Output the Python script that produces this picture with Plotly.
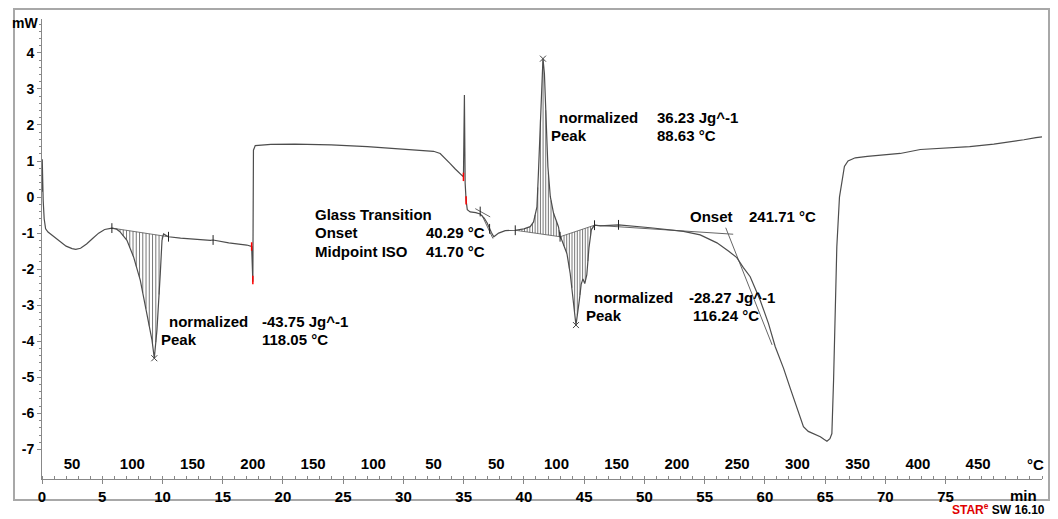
import numpy as np
import plotly.graph_objects as go

# ---------------- data ----------------
time_min = [
    0.00, 0.02, 0.05, 0.10, 0.18, 0.30, 0.50, 1.00, 1.50, 2.00, 2.50, 2.80, 3.20, 3.70, 4.20, 4.70,
    5.20, 5.80, 6.20, 6.50, 7.05, 7.60, 8.16, 8.71, 9.13, 9.32, 9.54, 9.82, 9.96, 10.09, 10.50,
    11.5, 12.5, 13.97, 14.2, 15.5, 17.0, 17.40, 17.50, 17.55, 17.70,
    19.0, 21.0, 24.0, 27.0, 30.0, 32.0, 32.5, 33.05, 33.5, 33.88, 34.3, 34.71, 34.98,
    35.06, 35.12, 35.20, 35.30, 35.54,
    36.0, 36.37, 36.7, 36.95, 37.15, 37.3, 37.5, 37.7, 37.9, 38.45, 39.28, 40.0, 40.52, 40.8,
    41.08, 41.2, 41.36, 41.49, 41.58, 41.7, 41.85, 41.99, 42.19, 42.46, 42.87, 43.0, 43.15,
    43.57, 43.84, 44.12, 44.32, 44.6, 44.75, 44.9, 45.05, 45.22, 45.4, 45.6, 45.86, 46.33,
    47.85, 50.5, 53.24, 54.63, 56.02, 57.0, 57.67, 58.2, 58.78, 59.61, 60.3, 60.86, 61.55,
    62.1, 62.66, 63.2, 63.6, 64.04, 64.6, 64.9, 65.15, 65.4, 65.56, 65.7, 65.83, 65.97, 66.19,
    66.39, 66.6, 66.9, 67.5, 68.5, 70.0, 71.23, 72.9, 75.0, 77.0, 79.0, 80.4, 81.5, 82.5, 83.0,
]
heat_flow_mw = [
    0.15, 1.05, 0.60, -0.10, -0.60, -0.88, -0.97, -1.10, -1.24, -1.36, -1.43, -1.45, -1.42, -1.30, -1.15, -1.00,
    -0.90, -0.86, -0.89, -0.97, -1.20, -1.66, -2.31, -3.22, -3.97, -4.47, -3.69, -2.11, -1.20, -1.02, -1.10,
    -1.14, -1.17, -1.20, -1.19, -1.27, -1.33, -1.37, -2.35, 1.30, 1.43,
    1.46, 1.47, 1.45, 1.40, 1.33, 1.29, 1.27, 1.21, 1.07, 0.93, 0.78, 0.65, 0.56,
    2.83, 0.40, -0.09, -0.35, -0.41,
    -0.43, -0.47, -0.58, -0.72, -0.88, -0.98, -1.10, -1.05, -1.00, -0.93, -0.92, -0.88, -0.82, -0.69,
    -0.27, 0.65, 2.04, 3.43, 3.84, 3.43, 2.04, 0.84, 0.01, -0.45, -0.83, -1.10, -1.20,
    -1.57, -2.12, -2.86, -3.55, -2.86, -2.42, -2.27, -2.40, -2.15, -1.40, -0.90, -0.78, -0.80,
    -0.77, -0.85, -0.95, -1.05, -1.27, -1.50, -1.68, -1.95, -2.21, -2.86, -3.51, -4.15, -4.75,
    -5.30, -5.82, -6.37, -6.50, -6.56, -6.65, -6.72, -6.77, -6.70, -6.56, -5.08, -3.23, -1.38, 0.00,
    0.47, 0.85, 1.00, 1.09, 1.13, 1.17, 1.21, 1.32, 1.37, 1.40, 1.47, 1.53, 1.59, 1.65, 1.67,
]

# time axis ticks (min) and temperature labels (°C) along the same axis
time_ticks = [0, 5, 10, 15, 20, 25, 30, 35, 40, 45, 50, 55, 60, 65, 70, 75]
temp_tick_times = [2.5, 7.5, 12.5, 17.5, 22.5, 27.5, 32.5, 37.7, 42.7, 47.7, 52.7, 57.7, 62.7, 67.7, 72.7, 77.7]
temp_tick_labels = ["50", "100", "150", "200", "150", "100", "50", "50", "100", "150", "200", "250",
                    "300", "350", "400", "450"]
y_ticks = [4, 3, 2, 1, 0, -1, -2, -3, -4, -5, -6, -7]

# integration baselines (start t, start mW, end t, end mW)
peak1_base = [5.80, -0.86, 10.50, -1.10]
peak2_base = [39.28, -0.92, 43.00, -1.10]
peak3_base = [43.00, -1.10, 45.86, -0.78]

peak_t = [9.32, 41.58, 44.32]
peak_mw = [-4.47, 3.84, -3.55]
limit_t = [5.80, 10.50, 14.2, 39.28, 43.00, 45.86, 47.85, 36.37, 37.15]
limit_mw = [-0.86, -1.10, -1.19, -0.92, -1.10, -0.78, -0.77, -0.40, -0.88]
red_t = [17.40, 17.50, 34.98, 35.20]
red_mw = [-1.37, -2.30, 0.56, -0.09]

tg_tan1_t = [35.96, 37.20]
tg_tan1_mw = [-0.32, -0.55]
tg_tan2_t = [36.51, 37.43]
tg_tan2_mw = [-0.50, -1.15]
onset_base_t = [45.86, 57.37]
onset_base_mw = [-0.78, -1.03]
onset_steep_t = [56.75, 60.60]
onset_steep_mw = [-0.85, -4.10]

# ---------------- figure ----------------
CURVE = "#4d4d4d"
FONT = "Liberation Sans, Arial, sans-serif"

fig = go.Figure()


def hatch(base, step):
    t0, v0, t1, v1 = base
    ts = np.arange(t0 + step / 2, t1, step)
    b = v0 + (v1 - v0) * (ts - t0) / (t1 - t0)
    c = np.interp(ts, time_min, heat_flow_mw)
    xs, ys = [], []
    for t, bb, cc in zip(ts, b, c):
        xs += [t, t, None]
        ys += [bb, cc, None]
    xs += [t0, t1, None]
    ys += [v0, v1, None]
    return xs, ys


hx, hy = [], []
for base, step in [(peak1_base, 0.27), (peak2_base, 0.22), (peak3_base, 0.22)]:
    xs, ys = hatch(base, step)
    hx += xs
    hy += ys
fig.add_trace(go.Scatter(x=hx, y=hy, mode="lines", line=dict(color="#555555", width=0.8),
                         hoverinfo="skip", showlegend=False))

for tx, ty in [(tg_tan1_t, tg_tan1_mw), (tg_tan2_t, tg_tan2_mw),
               (onset_base_t, onset_base_mw), (onset_steep_t, onset_steep_mw)]:
    fig.add_trace(go.Scatter(x=tx, y=ty, mode="lines", line=dict(color="#666666", width=1),
                             hoverinfo="skip", showlegend=False))

fig.add_trace(go.Scatter(x=time_min, y=heat_flow_mw, mode="lines",
                         line=dict(color=CURVE, width=1.2), showlegend=False))

fig.add_trace(go.Scatter(x=peak_t, y=peak_mw, mode="markers",
                         marker=dict(symbol="x-thin", size=6, line=dict(color="#444", width=1)),
                         showlegend=False))
fig.add_trace(go.Scatter(x=limit_t, y=limit_mw, mode="markers",
                         marker=dict(symbol="line-ns", size=7, line=dict(color="#222", width=1)),
                         showlegend=False))
fig.add_trace(go.Scatter(x=red_t, y=red_mw, mode="markers",
                         marker=dict(symbol="line-ns", size=6, line=dict(color="red", width=1.5)),
                         showlegend=False))

# carrier trace for the temperature axis
fig.add_trace(go.Scatter(x=[0, 83], y=[None, None], xaxis="x2", mode="lines",
                         showlegend=False, hoverinfo="skip"))

tick_font = dict(family=FONT, size=15, color="black", weight="bold")

fig.update_layout(
    width=1058, height=519,
    margin=dict(l=42, r=16, t=19, b=40),
    plot_bgcolor="white", paper_bgcolor="white",
    xaxis=dict(range=[0, 83], tickvals=time_ticks, ticktext=[str(v) for v in time_ticks],
               showgrid=False, zeroline=False, showline=True, linecolor="#888", linewidth=1,
               ticks="outside", ticklen=4, tickcolor="#888", tickfont=tick_font,
               minor=dict(dtick=1, tick0=0, ticks="inside", ticklen=3, tickcolor="#888")),
    xaxis2=dict(range=[0, 83], overlaying="x", side="bottom", anchor="y",
                tickvals=temp_tick_times, ticktext=temp_tick_labels,
                ticklabelposition="inside", ticks="", showgrid=False, zeroline=False,
                showline=False, tickfont=tick_font, ticklabelstandoff=4),
    yaxis=dict(range=[-7.82, 4.94], tickvals=y_ticks, ticktext=[str(v) for v in y_ticks],
               showgrid=False, zeroline=False, showline=True, linecolor="#888", linewidth=1,
               ticks="outside", ticklen=4, tickcolor="#888", tickfont=dict(family=FONT, size=14, color="black", weight="bold"),
               minor=dict(dtick=0.2, tick0=0, ticks="outside", ticklen=2, tickcolor="#888")),
    shapes=[dict(type="rect", xref="paper", yref="paper", x0=-0.028, x1=1.007, y0=-0.0457, y1=1.0217,
                 line=dict(color="#a8a8a8", width=2), fillcolor="rgba(0,0,0,0)", layer="below")],
)

ann_font = dict(family=FONT, size=15, color="black", weight="bold")


def txt(x, y, s, xref="x", yref="y", xanchor="left", font=None):
    fig.add_annotation(x=x, y=y, xref=xref, yref=yref, text=s, showarrow=False,
                       xanchor=xanchor, yanchor="middle", font=font or ann_font)


# peak 1
txt(10.40, -3.44, "normalized")
txt(9.73, -3.94, "Peak")
txt(18.10, -3.44, "-43.75 Jg^-1")
txt(18.10, -3.94, "118.05 °C")
# glass transition
txt(22.49, -0.48, "Glass Transition")
txt(22.49, -0.99, "Onset")
txt(22.49, -1.52, "Midpoint ISO")
txt(31.73, -0.99, "40.29 °C")
txt(31.73, -1.52, "41.70 °C")
# peak 2
txt(42.76, 2.21, "normalized")
txt(42.04, 1.70, "Peak")
txt(50.90, 2.21, "36.23 Jg^-1")
txt(50.90, 1.70, "88.63 °C")
# peak 3
txt(45.69, -2.79, "normalized")
txt(44.95, -3.28, "Peak")
txt(53.55, -2.79, "-28.27 Jg^-1")
txt(53.85, -3.28, "116.24 °C")
# onset
txt(53.61, -0.53, "Onset")
txt(58.51, -0.53, "241.71 °C")

# axis units and footer
txt(-0.017, 0.991, "mW", xref="paper", yref="paper", xanchor="center",
    font=dict(family=FONT, size=14, color="black", weight="bold"))
txt(0.993, 0.0326, "°C", xref="paper", yref="paper", xanchor="center", font=tick_font)
txt(0.997, -0.0348, "min", xref="paper", yref="paper", xanchor="right", font=tick_font)
txt(1.005, -0.066, "<span style='color:#e00000'>STAR<sup>e</sup></span> SW 16.10",
    xref="paper", yref="paper", xanchor="right",
    font=dict(family=FONT, size=12, color="black", weight="bold"))

fig.write_html("out.html")
